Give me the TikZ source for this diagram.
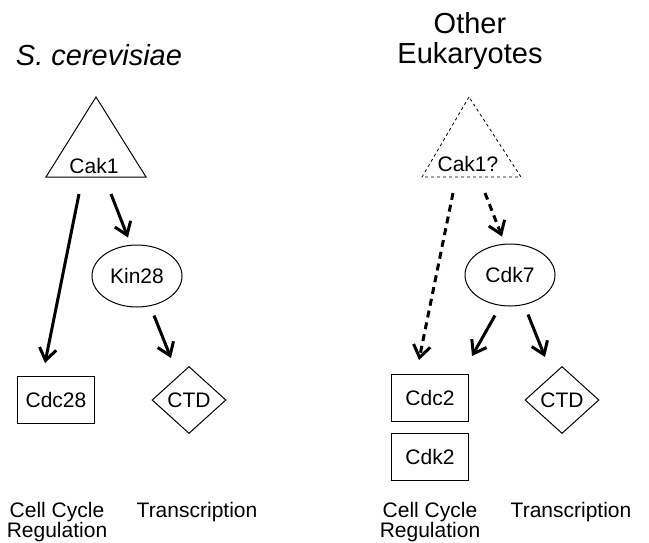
\documentclass[tikz,border=0pt]{standalone}
\usepackage{fontspec}
\setmainfont{Liberation Sans}
\usetikzlibrary{shapes.geometric,arrows.meta,calc}
\begin{document}
\begin{tikzpicture}[x=1pt,y=-1pt,
  every node/.style={font=\fontsize{21}{19}\selectfont},
  title/.style={font=\fontsize{29}{30}\selectfont, align=center},
  lab/.style={align=center, anchor=north, inner sep=0pt},
  txt/.style={inner sep=0pt},
  tri/.style={line width=1pt, line join=miter},
  dtri/.style={line width=0.8pt, dash pattern=on 3pt off 3pt},
  kbox/.style={draw, line width=1pt, minimum width=77pt, minimum height=47pt, inner sep=0pt},
  kell/.style={draw, ellipse, line width=1pt, minimum width=90pt, minimum height=62pt, inner sep=0pt},
  kdia/.style={draw, diamond, line width=1pt, minimum width=74pt, minimum height=67pt, inner sep=1pt},
  arr/.style={line width=3pt, -{Straight Barb[length=12pt,width=17pt]}},
  darr/.style={arr, dash pattern=on 7pt off 5pt}
]
\useasboundingbox (0,0) rectangle (649,542);

% titles
\node[title, font=\fontsize{29}{30}\selectfont\itshape] (t1) at (99,55) {S. cerevisiae};
\node[title, anchor=north, inner sep=0pt] (t2) at (470,12) {Other\\Eukaryotes};

% left triangle
\coordinate (t1a) at (96,97);
\coordinate (t1l) at (46,177);
\coordinate (t1r) at (146,177);
\draw[tri] (t1a) -- (t1l) -- (t1r) -- cycle;
\node[txt] (cak1) at (94,166) {Cak1};

% right triangle
\coordinate (t2a) at (469,97);
\coordinate (t2l) at (422,177);
\coordinate (t2r) at (521,177);
\draw[dtri] (t2a) -- (t2l) -- (t2r) -- cycle;
\node[txt] (cak2) at (468,164) {Cak1?};

% nodes
\node[kell] (kin28) at (137,276) {Kin28};
\node[kell] (cdk7) at (510,275) {Cdk7};
\node[kbox] (cdc28) at (56,400) {Cdc28};
\node[kdia] (ctd1) at (189,400) {CTD};
\node[kbox] (cdc2) at (430,398) {Cdc2};
\node[kbox] (cdk2) at (430,457) {Cdk2};
\node[kdia] (ctd2) at (562,400) {CTD};

% labels
\node[lab] (l1) at (57,502) {Cell Cycle\\Regulation};
\node[lab] (l2) at (197,502) {Transcription};
\node[lab] (l3) at (430,502) {Cell Cycle\\Regulation};
\node[lab] (l4) at (571,502) {Transcription};

% arrows left
\draw[arr] ($(cak1)+(-15,28)$) -- ($(cdc28.north)+(-11,-13)$);
\draw[arr] ($(cak1)+(17,28)$) -- ($(kin28.north)+(-9,-7)$);
\draw[arr] ($(kin28.south)+(17,8)$) -- ($(ctd1.north)+(-18,-8)$);

% arrows right
\draw[darr] ($(cak2)+(-15,29)$) -- ($(cdc2.north)+(-11,-14)$);
\draw[darr] ($(cak2)+(17,29)$) -- ($(cdk7.north)+(-8,-7)$);
\draw[arr] ($(cdk7.south)+(-15,9)$) -- ($(cdc2.north east)+(3,-18)$);
\draw[arr] ($(cdk7.south)+(18,8)$) -- ($(ctd2.north)+(-17,-9)$);
\end{tikzpicture}
\end{document}
